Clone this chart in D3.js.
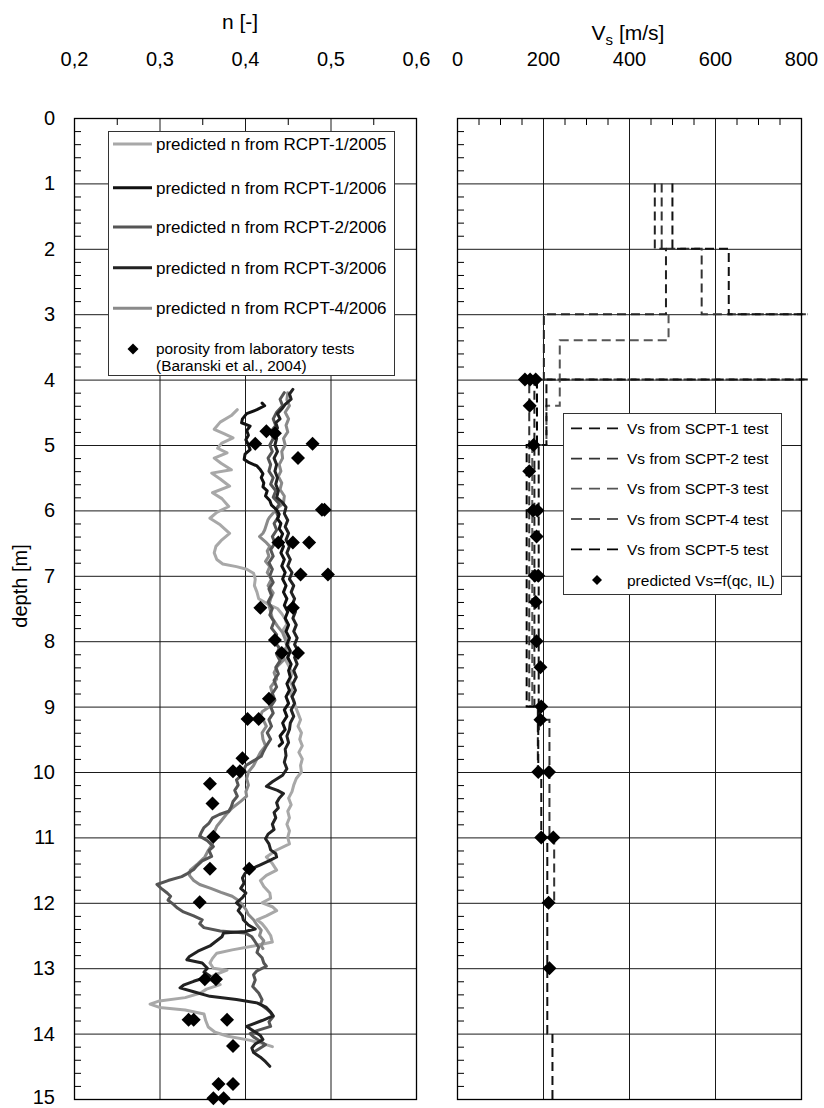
<!DOCTYPE html>
<html><head><meta charset="utf-8">
<script src="https://cdn.jsdelivr.net/npm/d3@7"></script>
<style>
body{margin:0;background:#fff;}
svg text{font-family:"Liberation Sans",Arial,sans-serif;fill:#000;}
</style></head><body>
<svg id="c" width="824" height="1108"></svg>
<script>
// ---------- tick labels ----------
const nTicks = [0.2, 0.3, 0.4, 0.5, 0.6];
const vsTicks = [0, 200, 400, 600, 800];
const depthTicks = [0,1,2,3,4,5,6,7,8,9,10,11,12,13,14,15];

// ---------- porosity curves [depth m, n] ----------
const rcpt1_2005 = [[4.46,.391],[4.55,.384],[4.65,.371],[4.76,.364],[4.83,.376],[4.89,.386],[4.97,.373],[5.05,.368],[5.12,.379],[5.20,.364],[5.28,.372],[5.38,.384],[5.43,.361],[5.52,.371],[5.63,.382],[5.73,.362],[5.82,.373],[5.94,.381],[6.03,.367],[6.12,.359],[6.22,.371],[6.35,.382],[6.45,.373],[6.55,.366],[6.65,.364],[6.75,.367],[6.82,.374],[6.86,.390],[6.90,.402],[6.96,.410],[7.05,.412],[7.15,.411],[7.25,.414],[7.35,.416],[7.42,.425],[7.50,.438],[7.58,.443],[7.66,.447],[7.74,.449],[7.82,.445],[7.90,.446],[8.00,.452],[8.10,.449],[8.20,.451],[8.30,.448],[8.40,.452],[8.50,.455],[8.60,.452],[8.70,.456],[8.80,.453],[8.90,.457],[9.00,.459],[9.10,.462],[9.20,.465],[9.30,.462],[9.40,.466],[9.50,.464],[9.60,.467],[9.70,.463],[9.80,.467],[9.90,.465],[10.00,.466],[10.10,.460],[10.20,.457],[10.30,.455],[10.40,.451],[10.50,.454],[10.60,.450],[10.70,.452],[10.80,.449],[10.90,.452],[11.00,.450],[11.10,.452],[11.20,.436],[11.30,.425],[11.40,.432],[11.50,.437],[11.58,.425],[11.66,.418],[11.75,.422],[11.85,.429],[11.93,.430],[12.00,.420],[12.06,.432],[12.12,.437],[12.20,.425],[12.26,.414],[12.32,.420],[12.40,.425],[12.50,.430],[12.60,.432],[12.66,.410],[12.72,.385],[12.77,.367],[12.85,.362],[12.92,.359],[13.00,.363],[13.03,.379],[13.10,.365],[13.16,.356],[13.25,.371],[13.32,.355],[13.38,.348],[13.45,.330],[13.50,.300],[13.55,.289],[13.60,.300],[13.64,.330],[13.70,.352],[13.80,.354],[13.90,.357],[13.98,.365],[14.04,.380],[14.10,.405],[14.15,.420],[14.20,.432]];

const rcpt1_2006 = [[4.36,.420],[4.40,.423],[4.46,.414],[4.52,.402],[4.60,.397],[4.66,.396],[4.71,.406],[4.78,.402],[4.85,.404],[4.92,.401],[5.00,.404],[5.07,.406],[5.14,.400],[5.22,.399],[5.27,.405],[5.32,.414],[5.38,.418],[5.44,.421],[5.50,.419],[5.58,.422],[5.64,.421],[5.70,.426],[5.78,.424],[5.85,.429],[5.92,.431],[5.99,.437],[6.06,.440],[6.13,.438],[6.20,.442],[6.28,.440],[6.36,.444],[6.45,.441],[6.55,.445],[6.65,.442],[6.75,.446],[6.85,.443],[6.95,.447],[7.05,.444],[7.15,.448],[7.25,.445],[7.35,.449],[7.45,.446],[7.55,.450],[7.65,.447],[7.75,.451],[7.85,.448],[7.95,.452],[8.05,.449],[8.15,.453],[8.25,.450],[8.35,.454],[8.45,.451],[8.55,.453],[8.65,.449],[8.75,.452],[8.85,.448],[8.95,.451],[9.05,.446],[9.15,.449],[9.25,.444],[9.35,.447],[9.45,.441],[9.55,.444],[9.60,.440]];

const rcpt2_2006 = [[4.20,.446],[4.30,.441],[4.40,.444],[4.50,.437],[4.60,.433],[4.70,.436],[4.80,.430],[4.90,.433],[5.00,.429],[5.10,.432],[5.20,.427],[5.30,.430],[5.40,.428],[5.50,.433],[5.60,.430],[5.70,.436],[5.80,.433],[5.90,.440],[6.00,.436],[6.10,.439],[6.20,.434],[6.30,.437],[6.40,.432],[6.50,.435],[6.60,.430],[6.70,.433],[6.80,.428],[6.90,.432],[7.00,.429],[7.10,.433],[7.20,.428],[7.30,.431],[7.40,.427],[7.50,.432],[7.60,.429],[7.70,.434],[7.80,.431],[7.90,.437],[8.00,.434],[8.10,.440],[8.20,.437],[8.30,.441],[8.40,.436],[8.50,.439],[8.60,.434],[8.70,.437],[8.80,.432],[8.90,.435],[9.00,.430],[9.10,.433],[9.20,.428],[9.30,.431],[9.40,.426],[9.50,.430],[9.60,.425],[9.70,.421],[9.76,.419],[9.83,.410],[9.90,.401],[9.96,.399],[10.05,.396],[10.12,.390],[10.20,.392],[10.28,.388],[10.37,.391],[10.45,.386],[10.53,.384],[10.60,.381],[10.65,.370],[10.70,.362],[10.78,.358],[10.85,.352],[10.92,.349],[10.98,.347],[11.05,.356],[11.14,.363],[11.20,.358],[11.29,.361],[11.36,.350],[11.43,.344],[11.49,.340],[11.55,.333],[11.60,.326],[11.66,.310],[11.72,.297],[11.78,.302],[11.85,.309],[11.90,.313],[11.96,.310],[12.02,.316],[12.08,.321],[12.14,.328],[12.20,.340],[12.26,.350],[12.32,.347],[12.38,.352],[12.43,.371],[12.46,.400],[12.52,.408],[12.60,.412],[12.68,.416],[12.76,.414],[12.84,.420],[12.92,.422],[12.97,.425],[13.04,.414],[13.10,.410],[13.18,.412],[13.28,.409],[13.38,.416],[13.48,.420],[13.55,.418],[13.62,.425],[13.68,.430],[13.74,.433],[13.82,.428],[13.89,.430],[13.95,.415],[14.00,.406],[14.05,.410],[14.10,.416],[14.17,.424],[14.22,.418],[14.27,.412]];

const rcpt3_2006 = [[4.15,.456],[4.22,.452],[4.30,.454],[4.38,.447],[4.45,.443],[4.52,.438],[4.60,.441],[4.66,.436],[4.74,.438],[4.82,.434],[4.90,.437],[5.00,.435],[5.10,.438],[5.20,.434],[5.30,.437],[5.40,.435],[5.50,.438],[5.60,.436],[5.70,.439],[5.80,.437],[5.88,.444],[5.95,.448],[6.05,.446],[6.15,.450],[6.25,.447],[6.35,.451],[6.45,.448],[6.55,.452],[6.65,.449],[6.75,.453],[6.85,.450],[6.95,.455],[7.05,.452],[7.15,.457],[7.25,.454],[7.35,.458],[7.45,.455],[7.55,.459],[7.65,.456],[7.75,.460],[7.85,.457],[7.95,.461],[8.05,.458],[8.15,.462],[8.25,.458],[8.35,.461],[8.45,.457],[8.55,.460],[8.65,.456],[8.75,.459],[8.85,.455],[8.95,.458],[9.05,.454],[9.15,.457],[9.25,.453],[9.35,.452],[9.45,.449],[9.55,.451],[9.65,.447],[9.75,.448],[9.85,.446],[9.95,.449],[10.05,.444],[10.15,.432],[10.22,.425],[10.28,.438],[10.33,.445],[10.40,.440],[10.47,.437],[10.55,.439],[10.62,.434],[10.70,.436],[10.80,.432],[10.88,.434],[10.95,.427],[11.02,.424],[11.10,.428],[11.19,.430],[11.25,.436],[11.30,.437],[11.36,.428],[11.42,.418],[11.49,.406],[11.55,.400],[11.62,.397],[11.70,.399],[11.78,.395],[11.85,.401],[11.92,.397],[12.00,.390],[12.06,.395],[12.12,.392],[12.20,.397],[12.26,.398],[12.34,.404],[12.40,.412],[12.44,.400],[12.46,.375],[12.52,.373],[12.60,.365],[12.66,.359],[12.74,.345],[12.82,.335],[12.87,.332],[12.92,.350],[13.00,.356],[13.06,.352],[13.12,.359],[13.20,.340],[13.26,.328],[13.30,.324],[13.36,.340],[13.43,.359],[13.48,.390],[13.53,.414],[13.60,.425],[13.67,.430],[13.73,.433],[13.80,.420],[13.89,.402],[13.96,.410],[14.03,.418],[14.09,.421],[14.16,.412],[14.22,.408],[14.29,.410],[14.36,.418],[14.43,.424],[14.50,.429]];

const rcpt4_2006 = [[4.20,.450],[4.31,.449],[4.40,.452],[4.50,.447],[4.60,.451],[4.70,.448],[4.80,.450],[4.90,.445],[5.00,.447],[5.10,.443],[5.20,.444],[5.30,.440],[5.40,.442],[5.48,.439],[5.58,.443],[5.68,.441],[5.78,.446],[5.89,.445],[5.96,.438],[6.04,.433],[6.10,.429],[6.14,.427],[6.22,.425],[6.30,.423],[6.35,.421],[6.40,.417],[6.48,.424],[6.55,.429],[6.62,.426],[6.70,.428],[6.78,.424],[6.86,.429],[6.95,.426],[7.05,.431],[7.15,.427],[7.26,.433],[7.35,.430],[7.45,.428],[7.55,.430],[7.65,.432],[7.77,.438],[7.87,.444],[7.97,.447],[8.08,.449],[8.18,.444],[8.28,.446],[8.38,.438],[8.48,.434],[8.58,.437],[8.70,.430],[8.80,.432],[8.90,.428],[9.00,.429],[9.08,.420],[9.15,.418],[9.22,.422],[9.30,.425],[9.40,.420],[9.50,.421],[9.60,.424],[9.70,.418],[9.80,.414],[9.90,.410],[10.00,.404],[10.10,.402],[10.20,.404],[10.30,.401],[10.37,.402],[10.45,.395],[10.55,.385],[10.65,.378],[10.75,.372],[10.83,.367],[10.92,.364],[11.00,.360],[11.10,.362],[11.20,.357],[11.30,.353],[11.40,.345],[11.50,.336],[11.58,.335],[11.66,.340],[11.72,.347],[11.78,.360],[11.84,.372],[11.90,.385],[11.96,.392],[12.02,.396],[12.10,.401],[12.18,.404],[12.26,.410],[12.34,.414],[12.42,.419],[12.50,.417],[12.58,.422],[12.66,.419],[12.70,.421]];

// laboratory porosity [depth, n]
const labPorosity = [[4.79,.425],[4.82,.435],[4.98,.412],[4.98,.479],[5.20,.462],[5.99,.490],[5.99,.493],[6.49,.439],[6.49,.456],[6.49,.475],[6.98,.465],[6.98,.497],[7.49,.418],[7.49,.456],[7.98,.435],[8.18,.443],[8.18,.462],[8.88,.428],[9.19,.403],[9.19,.416],[9.79,.397],[9.99,.386],[9.99,.394],[10.18,.359],[10.48,.362],[10.99,.363],[11.48,.359],[11.48,.405],[11.99,.347],[13.17,.353],[13.17,.366],[13.79,.334],[13.79,.340],[13.79,.379],[14.19,.386],[14.77,.369],[14.77,.386],[14.99,.363],[14.99,.375]];

// ---------- Vs profiles: [top depth, bottom depth, Vs] ----------
const scpt1 = [[1,2,501],[2,3,632],[3,4,1000],[4,5,208],[5,9.2,190],[9.2,10,189],[10,11,196],[11,14,210],[14,15,222]];
const scpt2 = [[1,2,476],[2,3,569],[3,4,1000],[4,9,168],[9,9.2,193],[9.2,11,215],[11,12,226]];
const scpt3 = [[3,3.4,492],[3.4,4.4,239],[4.4,5,208],[5,9,175]];
const scpt4 = [[1,2,460],[2,3,486],[3,4,202],[4,9,180],[9,10,188]];
const scpt5 = [[4,5,186],[5,9,162],[9,9.4,190]];

// predicted Vs [depth, Vs]
const predVs = [[4.0,158],[4.0,170],[4.0,183],[4.4,169],[5.0,178],[5.4,168],[6.0,177],[6.0,187],[6.4,185],[7.0,181],[7.0,189],[7.4,183],[8.0,185],[8.4,194],[9.0,196],[9.2,194],[10.0,189],[10.0,214],[11.0,196],[11.0,224],[12.0,213],[13.0,215]];

// ---------- legends ----------
const nLegend = ["predicted n from RCPT-1/2005","predicted n from RCPT-1/2006","predicted n from RCPT-2/2006","predicted n from RCPT-3/2006","predicted n from RCPT-4/2006"];
const nColors = ["#a8a8a8","#111111","#555555","#222222","#8a8a8a"];
const vsLegend = ["Vs from SCPT-1 test","Vs from SCPT-2 test","Vs from SCPT-3 test","Vs from SCPT-4 test","Vs from SCPT-5 test"];
const vsColors = ["#111111","#333333","#555555","#222222","#000000"];

// ---------- drawing ----------
const svg = d3.select('#c');
const top0 = 118, bot0 = 1099;
const xN = d3.scaleLinear().domain([0.2,0.6]).range([74,416]);
const xV = d3.scaleLinear().domain([0,800]).range([457,801]);
const yD = d3.scaleLinear().domain([0,15]).range([top0,bot0]);
const fmtN = d => d.toFixed(1).replace('.', ',');

function clean(g){ g.select('.domain').remove(); g.attr('font-family',null).attr('font-size',null); }

function panel(x, ticksMajor, minorVals, fmt){
  const [x0,x1] = x.range();
  svg.append('g').attr('transform',`translate(0,${top0})`)
    .call(d3.axisTop(x).tickValues(ticksMajor.slice(1,-1)).tickSize(-(bot0-top0)).tickFormat(''))
    .call(clean).selectAll('line').attr('stroke','#1a1a1a');
  svg.append('g').attr('transform',`translate(${x0},0)`)
    .call(d3.axisLeft(yD).tickValues(depthTicks.slice(1,-1)).tickSize(-(x1-x0)).tickFormat(''))
    .call(clean).selectAll('line').attr('stroke','#1a1a1a');
  svg.append('g').attr('transform',`translate(0,${top0})`)
    .call(d3.axisTop(x).tickValues(minorVals).tickSize(-7).tickFormat(''))
    .call(clean).selectAll('line').attr('stroke','#000');
  const mDepth = d3.range(0,75).map(i=>i*0.2).filter(v=>Math.abs(v-Math.round(v))>1e-6);
  svg.append('g').attr('transform',`translate(${x0},0)`)
    .call(d3.axisLeft(yD).tickValues(mDepth).tickSize(-7).tickFormat(''))
    .call(clean).selectAll('line').attr('stroke','#000');
  svg.append('g').attr('transform','translate(0,66)')
    .call(d3.axisTop(x).tickValues(ticksMajor).tickSize(0).tickPadding(0).tickFormat(fmt))
    .call(clean).attr('font-size',20);
}

panel(xN, nTicks, [0.25,0.35,0.45,0.55], fmtN);
panel(xV, vsTicks, [50,100,150,250,300,350,450,500,550,650,700,750], d=>d);

// depth labels
svg.append('g').attr('transform','translate(74,0)')
  .call(d3.axisLeft(yD).tickValues(depthTicks).tickSize(0).tickPadding(19).tickFormat(d=>d))
  .call(clean).attr('font-size',20)
  .selectAll('text').attr('dy', d => d===15 ? '0.22em' : '0.32em');

// titles
svg.append('text').attr('x',240).attr('y',29).attr('text-anchor','middle').attr('font-size',21).text('n [-]');
const vt = svg.append('text').attr('x',628).attr('y',40).attr('text-anchor','middle').attr('font-size',21);
vt.append('tspan').text('V');
vt.append('tspan').attr('font-size',15).attr('dy',5).text('s');
vt.append('tspan').attr('dy',-5).text(' [m/s]');
svg.append('text').attr('transform','translate(27,586) rotate(-90)').attr('text-anchor','middle').attr('font-size',20).text('depth [m]');

// porosity curves
const lineN = d3.line().x(p=>xN(p[1])).y(p=>yD(p[0]));
const curves = [rcpt1_2005, rcpt1_2006, rcpt2_2006, rcpt3_2006, rcpt4_2006];
[0,4,2,1,3].forEach(i=>{
  svg.append('path').attr('d',lineN(curves[i])).attr('fill','none')
    .attr('stroke',nColors[i]).attr('stroke-width',3).attr('stroke-linejoin','round').attr('stroke-linecap','round');
});

const diamond = r => `M0,${-r}L${r},0L0,${r}L${-r},0Z`;
svg.append('g').selectAll('path').data(labPorosity).join('path')
  .attr('d',diamond(7)).attr('transform',p=>`translate(${xN(p[1])},${yD(p[0])})`).attr('fill','#000');

// Vs profiles
svg.append('clipPath').attr('id','vclip').append('rect')
  .attr('x',457).attr('y',top0-2).attr('width',808-457).attr('height',bot0-top0+4);
const stepPts = layers => layers.flatMap(l=>[[l[0],l[2]],[l[1],l[2]]]);
const lineV = d3.line().x(p=>xV(p[1])).y(p=>yD(p[0]));
const profiles = [scpt1, scpt2, scpt3, scpt4, scpt5];
const vg = svg.append('g').attr('clip-path','url(#vclip)');
[2,1,3,4,0].forEach(i=>{
  vg.append('path').attr('d',lineV(stepPts(profiles[i]))).attr('fill','none')
    .attr('stroke',vsColors[i]).attr('stroke-width',2).attr('stroke-dasharray','9,5');
});
svg.append('g').selectAll('path').data(predVs).join('path')
  .attr('d',diamond(7)).attr('transform',p=>`translate(${xV(p[1])},${yD(p[0])})`).attr('fill','#000');

// frames
[[74,416],[457,801]].forEach(([a,b])=>{
  svg.append('rect').attr('x',a+0.5).attr('y',top0+0.5).attr('width',b-a).attr('height',bot0-top0)
    .attr('fill','none').attr('stroke','#000').attr('stroke-width',1.3);
});

// left legend
const lg = svg.append('g');
lg.append('rect').attr('x',108.5).attr('y',131.5).attr('width',286).attr('height',244)
  .attr('fill','#fff').attr('stroke','#333').attr('stroke-width',1);
const nRowY = [144,187.7,227,267.7,308.3];
nLegend.forEach((t,i)=>{
  lg.append('line').attr('x1',113).attr('x2',152).attr('y1',nRowY[i]).attr('y2',nRowY[i])
    .attr('stroke',nColors[i]).attr('stroke-width',3);
  lg.append('text').attr('x',156).attr('y',nRowY[i]+6).attr('font-size',17).text(t);
});
lg.append('path').attr('d',diamond(5.5)).attr('transform','translate(133,349)').attr('fill','#000');
lg.append('text').attr('x',156).attr('y',354).attr('font-size',15.4).text('porosity from laboratory tests');
lg.append('text').attr('x',156).attr('y',371).attr('font-size',15.4).text('(Baranski et al., 2004)');

// right legend
const rg = svg.append('g');
rg.append('rect').attr('x',563.5).attr('y',413.5).attr('width',218).attr('height',181)
  .attr('fill','#fff').attr('stroke','#333').attr('stroke-width',1);
const vRowY = [428.4,458.6,488.6,519,549.3,580];
vsLegend.forEach((t,i)=>{
  rg.append('line').attr('x1',571).attr('x2',618).attr('y1',vRowY[i]).attr('y2',vRowY[i])
    .attr('stroke',vsColors[i]).attr('stroke-width',1.7).attr('stroke-dasharray','11,7');
  rg.append('text').attr('x',627).attr('y',vRowY[i]+5.5).attr('font-size',15.5).text(t);
});
rg.append('path').attr('d',diamond(5)).attr('transform',`translate(597,${vRowY[5]})`).attr('fill','#000');
rg.append('text').attr('x',627).attr('y',vRowY[5]+5.5).attr('font-size',15.5).text('predicted Vs=f(qc, IL)');
</script>
</body></html>
